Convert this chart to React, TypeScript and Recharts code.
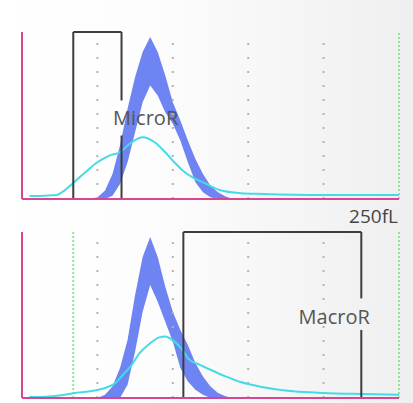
import React from "react";
import { ComposedChart, Area, Line, XAxis, YAxis, ReferenceLine, ReferenceDot } from "recharts";

// volume axis in fL, height in % of the panel
const gridFl = [50, 100, 150, 200];
const maxFl = 250;

// top panel (MicroR)
const microBandFl = [45, 50, 55, 60, 65, 70, 75, 80, 85, 90, 95, 100, 105, 110, 115, 120, 125, 130, 135, 140];
const microBandHigh = [0, 1, 5, 15, 32, 54, 73, 88, 97, 88, 74, 58, 47, 35, 24, 15, 8, 4, 1.5, 0];
const microBandLow = [0, 0, 0, 2, 9, 22, 40, 58, 68, 62, 52, 45, 35, 22, 10, 4, 1, 0, 0, 0];
const microCurveFl = [5, 15, 23, 28, 34, 42, 50, 58, 65, 72, 80, 88, 95, 100, 108, 114, 121, 131, 145, 160, 200, 250];
const microCurve = [1.8, 2, 2.4, 5, 9.6, 16, 22, 26, 28, 33.5, 37, 34, 28, 23, 16, 12.5, 9.6, 5.4, 3.5, 3, 2.4, 2.4];
const microGate = [34, 66];

// bottom panel (MacroR)
const macroBandFl = [50, 55, 60, 65, 70, 75, 80, 85, 90, 95, 100, 105, 110, 115, 120, 125, 130, 135, 140];
const macroBandHigh = [0, 2, 7, 18, 35, 62, 85, 97, 85, 67, 52, 41, 32, 21, 13, 7, 3, 1, 0];
const macroBandLow = [0, 0, 0, 0, 8, 28, 52, 68, 58, 46, 34, 18, 10, 5, 2, 0, 0, 0, 0];
const macroCurveFl = [5, 15, 25, 35, 45, 55, 62, 67, 72, 78, 85, 91, 95, 98, 105, 111, 118, 125, 135, 145, 160, 180, 200, 225, 250];
const macroCurve = [0.6, 0.8, 1.5, 3, 4, 6, 9, 14, 19, 27, 33, 36.5, 37, 36, 30.5, 23, 20, 17, 13, 9.6, 6.5, 4, 3, 2.4, 2];
const macroGate = [107, 225];
const macroMarker = 34;

const PINK = "#d9468f";
const BOX = "#3d3d3d";
const FONT = "'Open Sans', sans-serif";

type PanelProps = {
  bandFl: number[];
  bandHigh: number[];
  bandLow: number[];
  curveFl: number[];
  curve: number[];
  gate: number[];
  gap: number[];
  label: string;
  labelAt: { x: number; y: number };
  greenAt: number[];
  height: number;
  showUnit?: boolean;
};

const Panel = (p: PanelProps) => {
  const band = p.bandFl.map((x, i) => ({ x, band: [p.bandLow[i], p.bandHigh[i]] }));
  const curve = p.curveFl.map((x, i) => ({ x, v: p.curve[i] }));
  const [g0, g1] = p.gate;
  const box = { stroke: BOX, strokeWidth: 2, ifOverflow: "visible" as const };

  return (
    <ComposedChart width={413} height={p.height} margin={{ top: 32, right: 14, left: 22, bottom: p.height - 198 - (p.height === 205 ? 1 : 0) }}>
      <XAxis type="number" dataKey="x" domain={[0, maxFl]} hide allowDataOverflow />
      <YAxis type="number" domain={[0, 100]} hide allowDataOverflow />
      {gridFl.map((g) => (
        <ReferenceLine key={g} x={g} stroke="#b3b3b3" strokeWidth={2} strokeDasharray="2 12" />
      ))}
      {p.greenAt.map((g) => (
        <ReferenceLine key={"g" + g} x={g} stroke="#8fe68f" strokeWidth={2} strokeDasharray="2 2" ifOverflow="visible" />
      ))}
      <Area data={band} type="linear" dataKey="band" stroke="none" fill="#6d84f2" fillOpacity={1} isAnimationActive={false} />
      <Line data={curve} type="monotone" dataKey="v" stroke="#45dbe6" strokeWidth={2} dot={false} isAnimationActive={false} />
      <ReferenceLine segment={[{ x: g0, y: 0 }, { x: g0, y: 100 }]} {...box} />
      <ReferenceLine segment={[{ x: g0, y: 100 }, { x: g1, y: 100 }]} {...box} />
      <ReferenceLine segment={[{ x: g0, y: 0 }, { x: g1, y: 0 }]} {...box} />
      <ReferenceLine segment={[{ x: g1, y: 100 }, { x: g1, y: p.gap[1] }]} {...box} />
      <ReferenceLine segment={[{ x: g1, y: p.gap[0] }, { x: g1, y: 0 }]} {...box} />
      <ReferenceLine x={0} stroke={PINK} strokeWidth={2} ifOverflow="visible" />
      <ReferenceLine y={0} stroke={PINK} strokeWidth={2} ifOverflow="visible" />
      <ReferenceDot
        x={p.labelAt.x}
        y={p.labelAt.y}
        r={0}
        fill="none"
        stroke="none"
        label={{ value: p.label, position: "center", fill: "#555", fontSize: 20, fontFamily: FONT }}
      />
      {p.showUnit && (
        <ReferenceDot
          x={maxFl}
          y={100}
          r={0}
          fill="none"
          stroke="none"
          ifOverflow="visible"
          label={(props: any) => (
            <text x={props.viewBox.x - 1} y={props.viewBox.y - 9} textAnchor="end" fill="#444" fontSize={19} fontFamily={FONT}>
              250fL
            </text>
          )}
        />
      )}
    </ComposedChart>
  );
};

export default function App() {
  return (
    <div
      style={{
        position: "absolute",
        left: 0,
        top: 0,
        width: 413,
        height: 403,
        background: "linear-gradient(to right, #ffffff 0%, #fdfdfd 35%, #efefef 100%)",
      }}
    >
      <div style={{ position: "absolute", left: 0, top: 0 }}>
        <Panel
          bandFl={microBandFl}
          bandHigh={microBandHigh}
          bandLow={microBandLow}
          curveFl={microCurveFl}
          curve={microCurve}
          gate={microGate}
          gap={[38, 59]}
          label="MicroR"
          labelAt={{ x: 82, y: 48.5 }}
          greenAt={[maxFl]}
          height={205}
        />
      </div>
      <div style={{ position: "absolute", left: 0, top: 200 }}>
        <Panel
          bandFl={macroBandFl}
          bandHigh={macroBandHigh}
          bandLow={macroBandLow}
          curveFl={macroCurveFl}
          curve={macroCurve}
          gate={macroGate}
          gap={[41, 60]}
          label="MacroR"
          labelAt={{ x: 207, y: 49 }}
          greenAt={[macroMarker, maxFl]}
          height={203}
          showUnit
        />
      </div>
    </div>
  );
}
